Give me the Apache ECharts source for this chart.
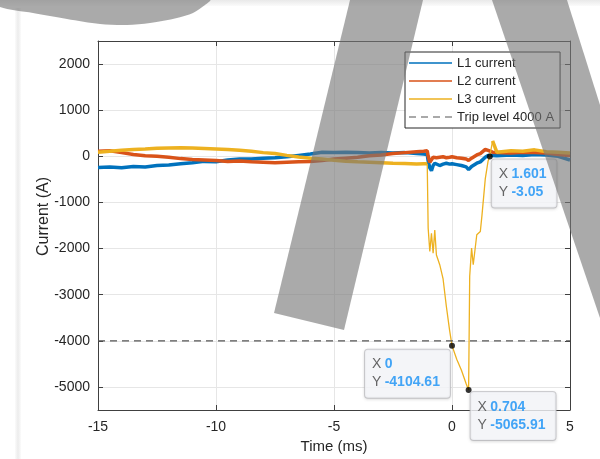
<!DOCTYPE html>
<html><head><meta charset="utf-8">
<script src="https://cdn.jsdelivr.net/npm/echarts@6/dist/echarts.min.js"></script>
<style>html,body{margin:0;padding:0;background:#fff}#c{width:600px;height:459px}</style>
</head><body><div id="c"></div>
<script>
// ---- data ----
const timeMs = [-15,-14.5,-14,-13.5,-13,-12.5,-12,-11.5,-11,-10.5,-10,-9.5,-9,-8.5,-8,-7.5,-7,-6.5,-6,-5.5,-5,-4.5,-4,-3.5,-3,-2.5,-2,-1.5,
  -1.2,-1.05,-1.01,-0.94,-0.87,-0.8,-0.73,-0.66,-0.52,-0.38,-0.24,-0.1,
  0,0.2,0.4,0.6,0.704,
  0.75,0.83,0.9,1.05,1.2,1.27,1.41,1.53,1.601,1.72,1.9,
  2.5,3,3.5,4,4.5,5];
const l1Current = [-240,-230,-250,-220,-230,-200,-190,-160,-140,-110,-120,-80,-60,-60,-40,-30,-10,20,50,90,80,90,80,70,80,70,80,60,
  50,40,-100,-250,-310,-200,-150,-160,-200,-170,-150,-170,
  -160,-180,-200,-230,-290,
  -330,-220,-180,-150,-120,-80,-20,20,0,20,10,
  30,20,40,30,0,-80];
const l2Current = [110,120,80,40,10,0,-20,-50,-70,-80,-90,-110,-100,-120,-130,-140,-130,-120,-110,-90,-60,-40,-20,10,30,60,80,100,
  110,120,0,-130,-100,-20,-10,-30,-20,-10,-30,-20,
  -10,-30,-40,-60,-90,
  -110,-40,-20,30,60,100,150,130,100,90,80,
  70,90,80,70,40,20];
const l3Current = [90,110,130,150,160,175,180,185,180,170,160,150,130,110,80,60,20,-15,-40,-60,-85,-105,-120,-130,-140,-150,-155,-165,
  -160,-160,-1560,-2060,-1670,-2100,-1600,-2140,-2350,-2650,-3250,-3780,
  -4104.61,-4400,-4640,-4930,-5065.91,
  -2600,-1990,-2350,-1700,-1630,-1280,-490,-100,-3.05,335,90,
  120,110,140,100,90,70];
const tripLevel = -4000;
const tipX = [1.601, 0, 0.704];
const tipY = [-3.05, -4104.61, -5065.91];
const xTickLabels = [-15, -10, -5, 0, 5];
const yTickLabels = [-5000, -4000, -3000, -2000, -1000, 0, 1000, 2000];
const seriesNames = ['L1 current', 'L2 current', 'L3 current', 'Trip level 4000 A'];

// ---- chart ----
const FONT = '"Liberation Sans", Arial, Helvetica, sans-serif';
const AX = '#404040';
const xMin = xTickLabels[0], xMax = xTickLabels[xTickLabels.length - 1];
const yMin = -5500, yMax = 2500;

const pairs = arr => timeMs.map((t, i) => [t, arr[i]]);
const l3Noisy = timeMs.map((t, i) => [t, (t <= -1.05 || t >= 1.72) ? l3Current[i] : null]);
const l3Fast = timeMs.map((t, i) => [t, (t >= -1.05 && t <= 1.72) ? l3Current[i] : null]);

// legend icons (line glyphs, 43x14 box)
const ICON_SOLID = 'path://M0,0h1v0.01h-1z M0,6.3h43v1.4h-43z M0,13.99h1v0.01h-1z';
const ICON_DASH = 'path://M0,0h1v0.01h-1z M0,6.4h7v1.2h-7z M12,6.4h7v1.2h-7z M24,6.4h7v1.2h-7z M36,6.4h7v1.2h-7z M0,13.99h1v0.01h-1z';

// datatip label placement (layout only)
const tipLayout = [[5, 6], [-84, 7], [5, 5]];

const chart = echarts.init(document.getElementById('c'), null, {renderer: 'canvas'});

function baseAxis(extra) {
  return Object.assign({
    type: 'value',
    axisLine: {show: true, onZero: false, lineStyle: {color: AX, width: 1}},
    axisTick: {show: true, inside: true, length: 5, lineStyle: {color: AX}},
  }, extra);
}

const option = {
  animation: false,
  backgroundColor: '#ffffff',
  textStyle: {fontFamily: FONT},
  grid: {left: 98, right: 30, top: 41, bottom: 47, containLabel: false},
  legend: {
    data: seriesNames.map((n, i) => ({name: n, icon: i === 3 ? ICON_DASH : ICON_SOLID})),
    orient: 'vertical',
    left: 405, top: 52,
    itemWidth: 43, itemHeight: 14, itemGap: 4,
    symbolKeepAspect: false,
    padding: [4, 6, 4, 4],
    borderColor: '#262626', borderWidth: 1,
    backgroundColor: '#ffffff',
    textStyle: {fontSize: 13, color: '#262626', fontFamily: FONT},
    selectedMode: false,
    z: 20
  },
  xAxis: [
    baseAxis({
      position: 'bottom', min: xMin, max: xMax, interval: 5,
      axisLabel: {fontSize: 14, color: '#262626', margin: 10, fontFamily: FONT, formatter: v => String(v)},
      splitLine: {show: true, lineStyle: {color: '#e6e6e6', width: 1}},
      name: 'Time (ms)', nameLocation: 'middle', nameGap: 29, nameMoveOverlap: false,
      nameTextStyle: {fontSize: 15, color: '#262626', fontFamily: FONT}
    }),
    baseAxis({
      position: 'top', min: xMin, max: xMax, interval: 5,
      axisLabel: {show: false}, splitLine: {show: false}
    })
  ],
  yAxis: [
    baseAxis({
      position: 'left', min: yMin, max: yMax,
      axisTick: {show: true, inside: true, length: 5, lineStyle: {color: AX}, customValues: yTickLabels},
      axisLabel: {fontSize: 14, color: '#262626', margin: 8, fontFamily: FONT, customValues: yTickLabels,
        formatter: v => String(v)},
      splitLine: {show: true, lineStyle: {color: '#e6e6e6', width: 1}},
      name: 'Current (A)', nameLocation: 'middle', nameGap: 46, nameMoveOverlap: false,
      nameTextStyle: {fontSize: 16, color: '#262626', fontFamily: FONT, padding: [0, 0, 0, 18]}
    }),
    baseAxis({
      position: 'right', min: yMin, max: yMax,
      axisTick: {show: true, inside: true, length: 5, lineStyle: {color: AX}, customValues: yTickLabels},
      axisLabel: {show: false, customValues: yTickLabels}, splitLine: {show: false}
    })
  ],
  series: [
    {name: seriesNames[0], type: 'line', data: pairs(l1Current), symbol: 'none', showSymbol: false,
      lineStyle: {color: '#0072BD', width: 3.5}, itemStyle: {color: '#0072BD'}, z: 3},
    {name: seriesNames[1], type: 'line', data: pairs(l2Current), symbol: 'none', showSymbol: false,
      lineStyle: {color: '#D95319', width: 3.5}, itemStyle: {color: '#D95319'}, z: 4},
    {name: seriesNames[2], type: 'line', data: l3Noisy, symbol: 'none', showSymbol: false, connectNulls: false,
      lineStyle: {color: '#EDB120', width: 3.5}, itemStyle: {color: '#EDB120'}, z: 5},
    {name: seriesNames[2], type: 'line', data: l3Fast, symbol: 'none', showSymbol: false, connectNulls: false,
      lineStyle: {color: '#EDB120', width: 1.3}, itemStyle: {color: '#EDB120'}, z: 5},
    {name: seriesNames[3], type: 'line', data: [[xMin, tripLevel], [xMax, tripLevel]], symbol: 'none', showSymbol: false,
      lineStyle: {color: '#555555', width: 1.2, type: [7, 5]}, itemStyle: {color: '#555555'}, z: 6},
    {name: 'datatips', type: 'scatter', symbol: 'circle', symbolSize: 6, z: 12,
      itemStyle: {color: '#000000'},
      data: tipX.map((x, i) => ({
        value: [x, tipY[i]],
        label: {
          show: true,
          position: tipLayout[i],
          align: 'left',
          verticalAlign: 'top',
          formatter: p => '{k|X} {v|' + p.value[0] + '}\n{k|Y} {v|' + p.value[1] + '}',
          backgroundColor: '#f8f9fd',
          borderColor: '#c4c4c8', borderWidth: 1, borderRadius: 3,
          padding: [6, 10, 6, 7],
          shadowColor: 'rgba(0,0,0,0.12)', shadowBlur: 3, shadowOffsetY: 1,
          lineHeight: 18,
          rich: {
            k: {fontSize: 14, color: '#404040', fontFamily: FONT, lineHeight: 18},
            v: {fontSize: 14, color: '#1590f5', fontWeight: 'bold', fontFamily: FONT, lineHeight: 18}
          }
        }
      }))
    }
  ],
  graphic: [
    // panel edges
    {type: 'rect', shape: {x: 0, y: 0, width: 600, height: 6}, z: 1, silent: true,
      style: {fill: new echarts.graphic.LinearGradient(0, 0, 0, 1, [{offset: 0, color: '#e9e9e9'}, {offset: 1, color: '#fbfbfb'}])}},
    {type: 'rect', shape: {x: 15, y: 8, width: 6, height: 451}, z: 1, silent: true,
      style: {fill: new echarts.graphic.LinearGradient(0, 0, 1, 0, [{offset: 0, color: '#fbfbfb'}, {offset: 0.5, color: '#ececec'}, {offset: 1, color: '#fbfbfb'}])}},
    // grey overlay shapes
    {type: 'polygon', z: 100, silent: true,
      shape: {points: [[0,0],[210,0],[205,5],[193,13],[177,18],[150,23],[127,25],[100,24],[67,19],[33,13],[0,7]], smooth: 0.3},
      style: {fill: 'rgba(118,118,118,0.62)'}},
    {type: 'polygon', z: 100, silent: true,
      shape: {points: [[350,0],[423,0],[344,330],[274,313]]},
      style: {fill: 'rgba(118,118,118,0.62)'}},
    {type: 'polygon', z: 100, silent: true,
      shape: {points: [[492,0],[567,0],[600,105],[600,318]]},
      style: {fill: 'rgba(118,118,118,0.62)'}}
  ]
};
chart.setOption(option);
</script>
</body></html>
